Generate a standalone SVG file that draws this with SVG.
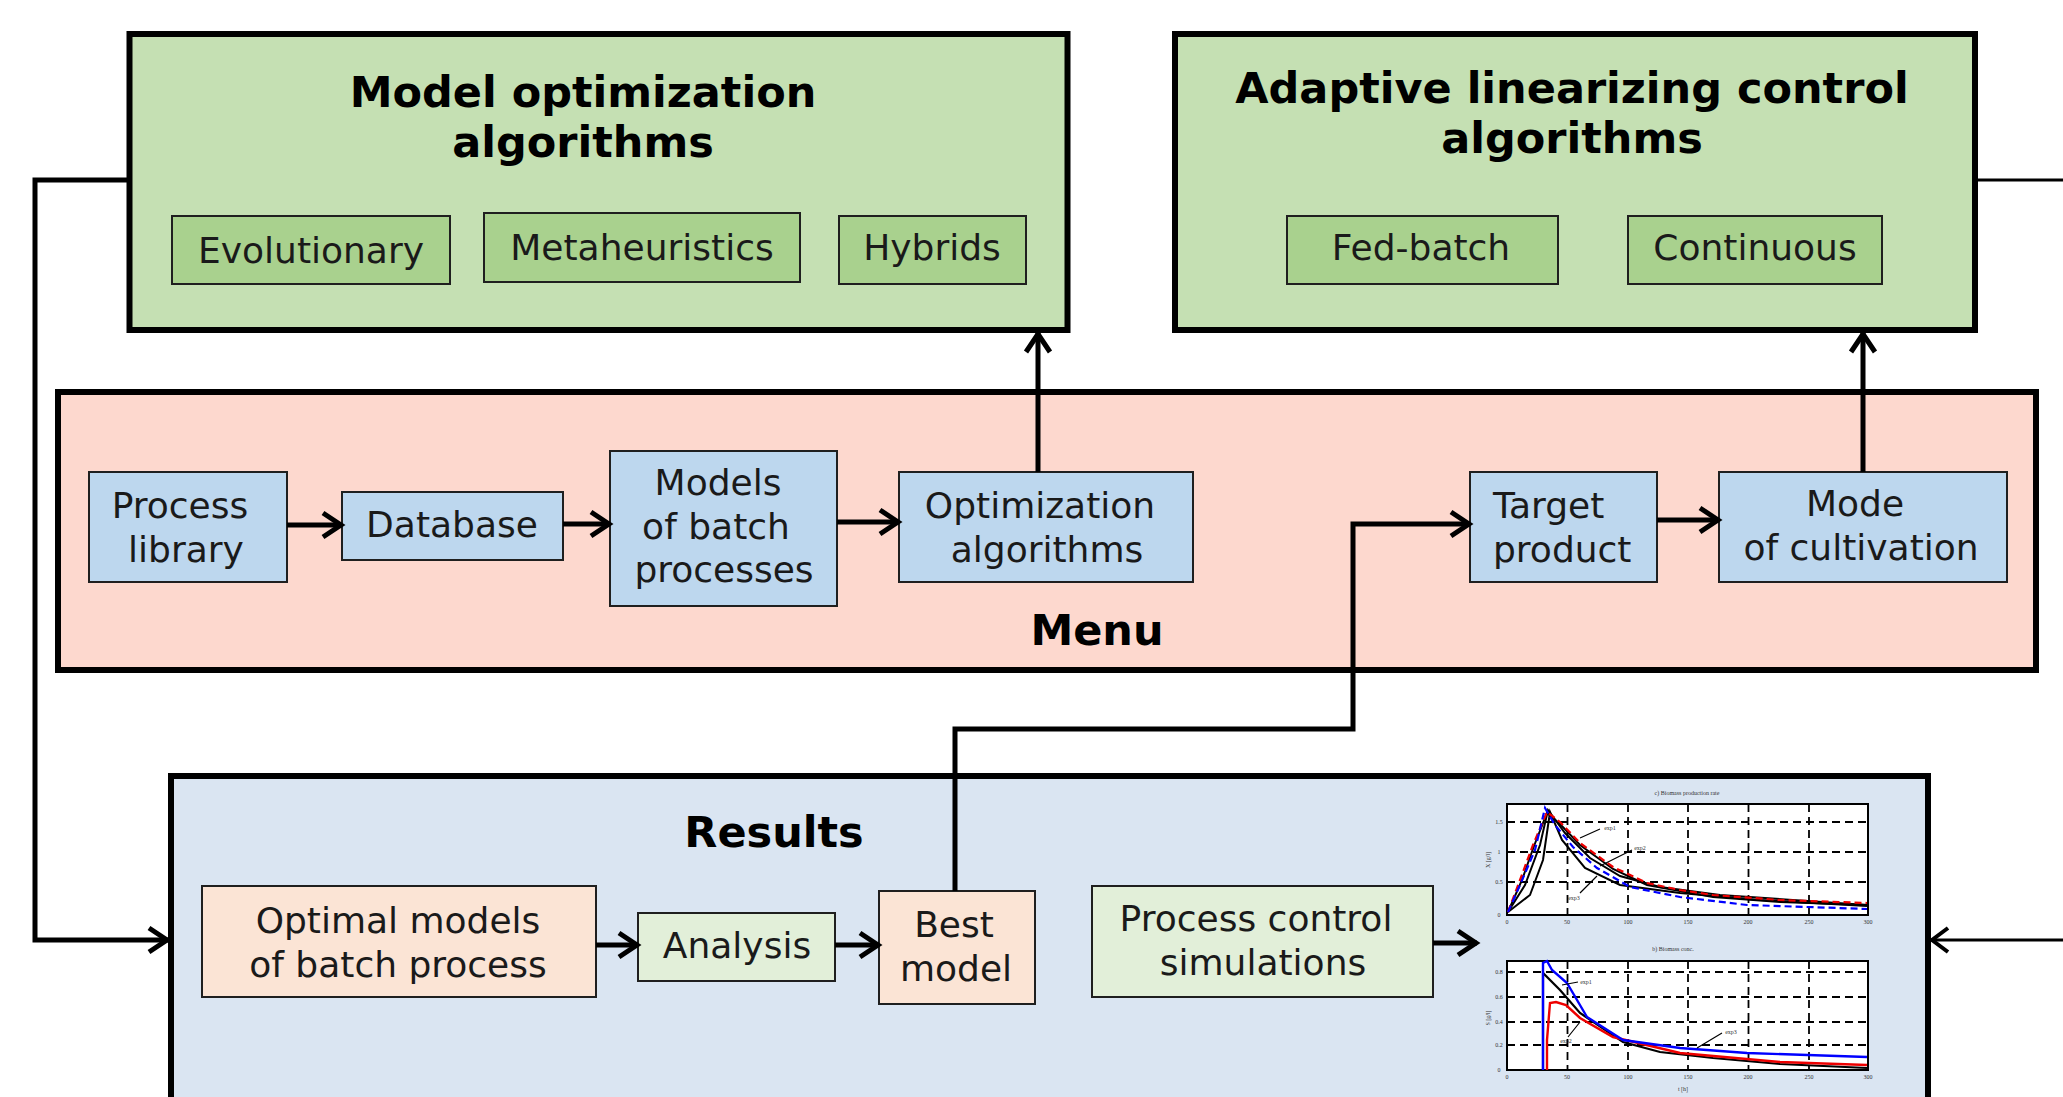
<svg xmlns="http://www.w3.org/2000/svg" width="2063" height="1097" viewBox="0 0 2063 1097">
  <style>
    .big { stroke: #000; stroke-width: 6; }
    .sub { stroke: #1f1f1f; stroke-width: 2; }
    .green { fill: #c5e0b3; }
    .green2 { fill: #a9d18e; }
    .menu { fill: #fdd8ce; }
    .blue { fill: #bdd7ee; }
    .res { fill: #dae5f2; }
    .peach { fill: #fbe4d5; }
    .lgreen { fill: #e2efd9; }
    .title { font-family: "DejaVu Sans", Verdana, sans-serif; font-weight: bold; font-size: 43px; fill: #000; text-anchor: middle; }
    .lbl { font-family: "DejaVu Sans", Verdana, sans-serif; font-size: 36px; fill: #1a1a1a; text-anchor: middle; }
    .conn { fill: none; stroke: #000; stroke-width: 5; stroke-linejoin: miter; }
    .thin { fill: none; stroke: #000; stroke-width: 3; }
    .frame { fill: #fff; stroke: #000; stroke-width: 2; }
    .grid { fill: none; stroke: #000; stroke-width: 1.8; stroke-dasharray: 8 5; }
    .tick { font-family: "Liberation Serif", serif; font-size: 6px; fill: #333; text-anchor: middle; }
    .lead { fill: none; stroke: #000; stroke-width: 1.2; }
  </style>
  <defs>
    <marker id="arr" markerUnits="userSpaceOnUse" markerWidth="30" markerHeight="30" refX="21" refY="12" orient="auto" overflow="visible">
      <path d="M2,0 L20,12 L2,24" fill="none" stroke="#000" stroke-width="5"/>
    </marker>
    <marker id="arrThin" markerUnits="userSpaceOnUse" markerWidth="30" markerHeight="30" refX="19" refY="12" orient="auto" overflow="visible">
      <path d="M2,0 L18,12 L2,24" fill="none" stroke="#000" stroke-width="4"/>
    </marker>
  </defs>

  <rect width="2063" height="1097" fill="#fff"/>

  <!-- Model optimization algorithms -->
  <g id="model-optimization">
    <rect class="big green" x="129.5" y="34" width="938" height="296"/>
    <text class="title" x="583" y="107">Model optimization</text>
    <text class="title" x="583" y="157">algorithms</text>
    <g id="evolutionary">
      <rect class="sub green2" x="172" y="216" width="278" height="68"/>
      <text class="lbl" x="311" y="263">Evolutionary</text>
    </g>
    <g id="metaheuristics">
      <rect class="sub green2" x="484" y="213" width="316" height="69"/>
      <text class="lbl" x="642" y="260">Metaheuristics</text>
    </g>
    <g id="hybrids">
      <rect class="sub green2" x="839" y="216" width="187" height="68"/>
      <text class="lbl" x="932" y="260">Hybrids</text>
    </g>
  </g>

  <!-- Adaptive linearizing control algorithms -->
  <g id="adaptive-control">
    <rect class="big green" x="1175" y="34" width="800" height="296"/>
    <text class="title" x="1572" y="103">Adaptive linearizing control</text>
    <text class="title" x="1572" y="153">algorithms</text>
    <g id="fed-batch">
      <rect class="sub green2" x="1287" y="216" width="271" height="68"/>
      <text class="lbl" x="1421" y="260">Fed-batch</text>
    </g>
    <g id="continuous">
      <rect class="sub green2" x="1628" y="216" width="254" height="68"/>
      <text class="lbl" x="1755" y="260">Continuous</text>
    </g>
  </g>

  <!-- Menu -->
  <g id="menu">
    <rect class="big menu" x="58" y="392" width="1978" height="278"/>
    <text class="title" x="1097" y="645">Menu</text>
    <g id="process-library">
      <rect class="sub blue" x="89" y="472" width="198" height="110"/>
      <text class="lbl" x="180" y="518">Process</text>
      <text class="lbl" x="186" y="562">library</text>
    </g>
    <g id="database">
      <rect class="sub blue" x="342" y="492" width="221" height="68"/>
      <text class="lbl" x="452" y="537">Database</text>
    </g>
    <g id="models-batch">
      <rect class="sub blue" x="610" y="451" width="227" height="155"/>
      <text class="lbl" x="718" y="495">Models</text>
      <text class="lbl" x="716" y="539">of batch</text>
      <text class="lbl" x="724" y="582">processes</text>
    </g>
    <g id="optimization-algorithms">
      <rect class="sub blue" x="899" y="472" width="294" height="110"/>
      <text class="lbl" x="1040" y="518">Optimization</text>
      <text class="lbl" x="1047" y="562">algorithms</text>
    </g>
    <g id="target-product">
      <rect class="sub blue" x="1470" y="472" width="187" height="110"/>
      <text class="lbl" x="1493" y="518" style="text-anchor:start">Target</text>
      <text class="lbl" x="1493" y="562" style="text-anchor:start">product</text>
    </g>
    <g id="mode-cultivation">
      <rect class="sub blue" x="1719" y="472" width="288" height="110"/>
      <text class="lbl" x="1855" y="516">Mode</text>
      <text class="lbl" x="1861" y="560">of cultivation</text>
    </g>
  </g>

  <!-- Results -->
  <g id="results">
    <rect class="big res" x="171" y="776" width="1757" height="345"/>
    <text class="title" x="774" y="847">Results</text>
    <g id="optimal-models">
      <rect class="sub peach" x="202" y="886" width="394" height="111"/>
      <text class="lbl" x="398" y="933">Optimal models</text>
      <text class="lbl" x="398" y="977">of batch process</text>
    </g>
    <g id="analysis">
      <rect class="sub lgreen" x="638" y="913" width="197" height="68"/>
      <text class="lbl" x="737" y="958">Analysis</text>
    </g>
    <g id="best-model">
      <rect class="sub peach" x="879" y="891" width="156" height="113"/>
      <text class="lbl" x="954" y="937">Best</text>
      <text class="lbl" x="956" y="981">model</text>
    </g>
    <g id="process-control">
      <rect class="sub lgreen" x="1092" y="886" width="341" height="111"/>
      <text class="lbl" x="1256" y="931">Process control</text>
      <text class="lbl" x="1263" y="975">simulations</text>
    </g>

    <!-- simulation plots -->
    <g id="plots">
      <text class="tick" x="1687" y="795">c) Biomass production rate</text>
      <rect class="frame" x="1507" y="804" width="361" height="111"/>
      <path class="grid" d="M1507,822H1868M1507,852H1868M1507,882H1868M1567.5,804V915M1628,804V915M1688,804V915M1748.5,804V915M1809,804V915"/>
      <polyline fill="none" stroke="#000" stroke-width="2" points="1508,912 1525,885 1540,845 1548,810 1565,833 1590,858 1620,876 1660,887 1720,895 1867,905"/>
      <polyline fill="none" stroke="#000" stroke-width="2" points="1508,912 1530,895 1543,860 1550,812 1562,840 1585,868 1620,885 1680,893 1760,900 1867,906"/>
      <polyline fill="none" stroke="#000" stroke-width="2" points="1508,912 1522,880 1534,846 1547,813 1560,824 1580,845 1613,869 1647,885 1713,897 1780,902 1867,905"/>
      <polyline fill="none" stroke="#e00" stroke-width="2.2" stroke-dasharray="7 4" points="1508,912 1520,880 1533,845 1547,812 1560,822 1580,843 1613,867 1647,883 1680,890 1713,895 1780,900 1867,903"/>
      <polyline fill="none" stroke="#00f" stroke-width="2.2" stroke-dasharray="7 4" points="1508,912 1520,885 1535,850 1545,808 1555,825 1573,847 1597,868 1630,887 1680,897 1747,905 1867,909"/>
      <path class="lead" d="M1580,838L1600,829M1600,866L1632,850M1597,876L1580,893"/>
      <text class="tick" x="1610" y="830">exp1</text>
      <text class="tick" x="1640" y="850">exp2</text>
      <text class="tick" x="1574" y="900">exp3</text>
      <g class="tick">
        <text x="1507" y="924">0</text><text x="1567" y="924">50</text><text x="1628" y="924">100</text><text x="1688" y="924">150</text><text x="1748" y="924">200</text><text x="1809" y="924">250</text><text x="1868" y="924">300</text>
        <text x="1499" y="824">1.5</text><text x="1499" y="854">1</text><text x="1499" y="884">0.5</text><text x="1499" y="917">0</text>
      </g>
      <text class="tick" transform="translate(1490,860) rotate(-90)">X [g/l]</text>

      <text class="tick" x="1673" y="951">b) Biomass conc.</text>
      <rect class="frame" x="1507" y="961" width="361" height="109"/>
      <path class="grid" d="M1507,972H1868M1507,997H1868M1507,1022H1868M1507,1045H1868M1567.5,961V1070M1628,961V1070M1688,961V1070M1748.5,961V1070M1809,961V1070"/>
      <polyline fill="none" stroke="#000" stroke-width="2.2" points="1543,1070 1543,973 1560,990 1580,1013 1623,1042 1660,1052 1713,1058 1780,1064 1867,1068"/>
      <polyline fill="none" stroke="#e00" stroke-width="2.4" points="1547,1070 1547,1040 1550,1003 1556,1002 1566,1005 1580,1018 1613,1037 1680,1053 1780,1062 1867,1065"/>
      <polyline fill="none" stroke="#00f" stroke-width="2.4" points="1543,1070 1543,963 1547,961 1552,970 1567,983 1587,1017 1623,1040 1680,1048 1747,1053 1867,1057"/>
      <path class="lead" d="M1562,985L1578,982M1580,1022L1568,1037M1697,1048L1722,1033"/>
      <text class="tick" x="1586" y="984">exp1</text>
      <text class="tick" x="1566" y="1043">exp2</text>
      <text class="tick" x="1731" y="1034">exp3</text>
      <g class="tick">
        <text x="1507" y="1079">0</text><text x="1567" y="1079">50</text><text x="1628" y="1079">100</text><text x="1688" y="1079">150</text><text x="1748" y="1079">200</text><text x="1809" y="1079">250</text><text x="1868" y="1079">300</text>
        <text x="1499" y="974">0.8</text><text x="1499" y="999">0.6</text><text x="1499" y="1024">0.4</text><text x="1499" y="1047">0.2</text><text x="1499" y="1072">0</text>
      </g>
      <text class="tick" transform="translate(1490,1018) rotate(-90)">S [g/l]</text>
      <text class="tick" x="1683" y="1091">t [h]</text>
    </g>
  </g>

  <!-- Connectors -->
  <g id="connectors">
    <path class="conn" d="M287,525H342" marker-end="url(#arr)"/>
    <path class="conn" d="M563,524H610" marker-end="url(#arr)"/>
    <path class="conn" d="M837,522H899" marker-end="url(#arr)"/>
    <path class="conn" d="M1038,472V333" marker-end="url(#arr)"/>
    <path class="conn" d="M1863,472V333" marker-end="url(#arr)"/>
    <path class="conn" d="M1657,520H1719" marker-end="url(#arr)"/>
    <path class="conn" d="M955,891V729H1353V524H1470" marker-end="url(#arr)"/>
    <path class="conn" d="M127,180H35V940H168" marker-end="url(#arr)"/>
    <path class="conn" d="M596,945H638" marker-end="url(#arr)"/>
    <path class="conn" d="M835,945H879" marker-end="url(#arr)"/>
    <path class="conn" d="M1433,943H1477" marker-end="url(#arr)"/>
    <path class="thin" d="M1978,180H2063"/>
    <path class="thin" d="M2063,940H1931" marker-end="url(#arrThin)"/>
  </g>
</svg>
